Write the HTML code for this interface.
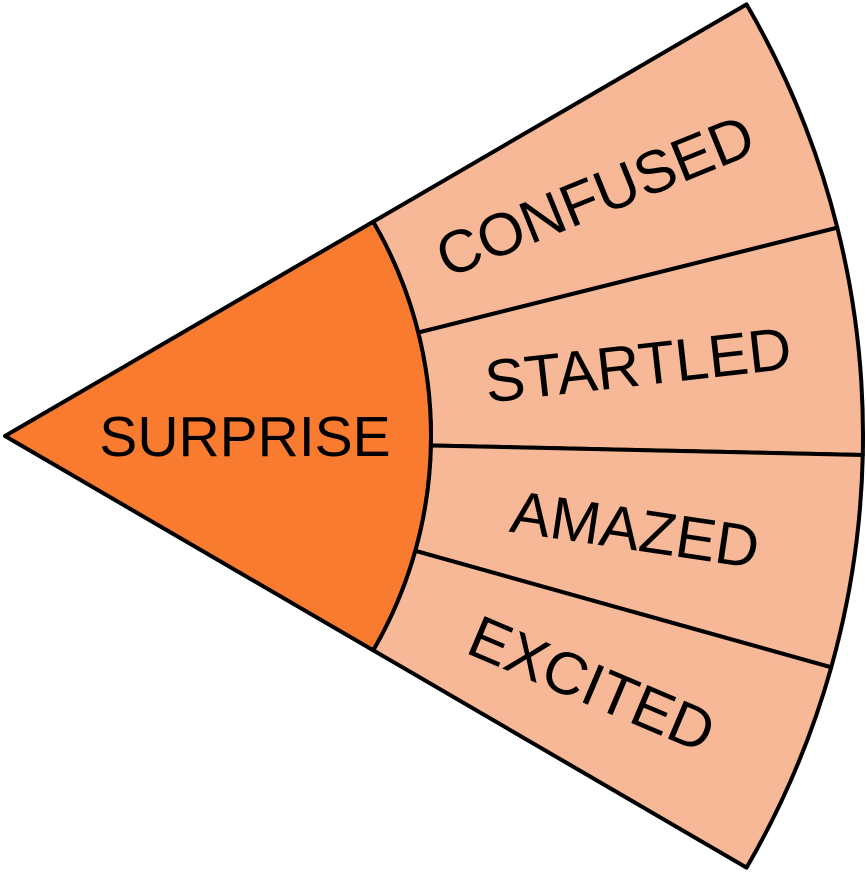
<!DOCTYPE html>
<html><head><meta charset="utf-8"><style>
html,body{margin:0;padding:0;background:#fff;width:866px;height:872px;overflow:hidden}
svg{display:block}
</style></head><body>
<svg id="chart" width="866" height="872" viewBox="0 0 866 872"></svg>
<script>
const parentLabel = "SURPRISE";
const childLabels = ["CONFUSED","STARTLED","AMAZED","EXCITED"];
const childValues = [16.15,15.32,14.37,14.56];
const startAngle = -30.2, endAngle = 30.2;
const cx = 5, cy = 436, r0 = 0, r1 = 426, r2 = 858;
const NS = "http://www.w3.org/2000/svg";
const svg = document.getElementById('chart');
const rad = d => d*Math.PI/180;
const pt = (r,a) => [cx + r*Math.cos(rad(a)), cy + r*Math.sin(rad(a))];
function arcPath(ri, ro, a0, a1){
  const large = (a1-a0) > 180 ? 1 : 0;
  const [x0,y0] = pt(ro,a0), [x1,y1] = pt(ro,a1);
  if (ri === 0) return `M${cx},${cy} L${x0},${y0} A${ro},${ro} 0 ${large} 1 ${x1},${y1} Z`;
  const [x2,y2] = pt(ri,a1), [x3,y3] = pt(ri,a0);
  return `M${x3},${y3} L${x0},${y0} A${ro},${ro} 0 ${large} 1 ${x1},${y1} L${x2},${y2} A${ri},${ri} 0 ${large} 0 ${x3},${y3} Z`;
}
const total = childValues.reduce((s,v)=>s+v,0);
let a = startAngle;
childValues.forEach((v,i)=>{
  const a1 = a + (endAngle-startAngle)*v/total;
  const p = document.createElementNS(NS,'path');
  p.setAttribute('d', arcPath(r1,r2,a,a1));
  p.setAttribute('fill','#F6B896');
  p.setAttribute('stroke','#000');
  p.setAttribute('stroke-width','4');
  p.setAttribute('stroke-linejoin','round');
  
  
  svg.appendChild(p);
  const mid = (a + a1)/2;
  const [tx,ty] = pt((r1+r2)/2 - 5, mid);
  const t = document.createElementNS(NS,'text');
  t.setAttribute('x', tx); t.setAttribute('y', ty);
  t.setAttribute('transform', `rotate(${mid} ${tx} ${ty})`);
  t.setAttribute('text-anchor','middle');
  t.setAttribute('dominant-baseline','central');
  t.setAttribute('font-family','"Liberation Sans", sans-serif');
  t.setAttribute('font-size','60');
  t.setAttribute('fill','#000');
  t.textContent = childLabels[i];
  
  
  svg.appendChild(t);
  a = a1;
});
const inner = document.createElementNS(NS,'path');
inner.setAttribute('d', arcPath(0,r1,startAngle,endAngle));
inner.setAttribute('fill','#F97B30');
inner.setAttribute('stroke','#000');
inner.setAttribute('stroke-width','4');
inner.setAttribute('stroke-linejoin','round');


svg.appendChild(inner);
const pl = document.createElementNS(NS,'text');
pl.setAttribute('x', 245); pl.setAttribute('y', 437);
pl.setAttribute('text-anchor','middle');
pl.setAttribute('dominant-baseline','central');
pl.setAttribute('font-family','"Liberation Sans", sans-serif');
pl.setAttribute('font-size','57');
pl.textContent = parentLabel;


svg.appendChild(pl);
</script>
</body></html>
